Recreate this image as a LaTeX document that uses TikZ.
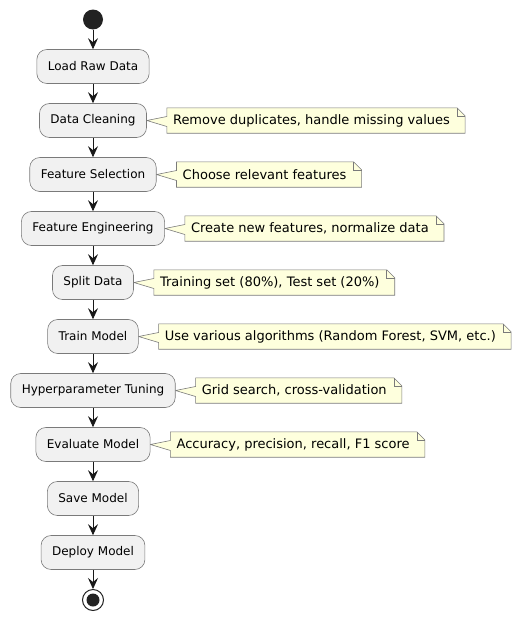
\documentclass[tikz,border=0pt]{standalone}
\usepackage{fontspec}
\setmainfont{DejaVu Sans}
\usepackage{tikz}
\usetikzlibrary{arrows.meta}
\usetikzlibrary{backgrounds}

\definecolor{actfill}{HTML}{F1F1F1}
\definecolor{notefill}{HTML}{FEFFDD}
\definecolor{linecol}{HTML}{181818}
\definecolor{edgecol}{HTML}{7A7A7A}
\definecolor{dotcol}{HTML}{222222}

\tikzset{
  act/.style={draw=edgecol, fill=actfill, line width=0.6pt, rounded corners=10pt,
    minimum height=34pt, inner xsep=11pt, font=\fontsize{12}{14}\selectfont},
  notetext/.style={anchor=west, minimum height=25pt, inner xsep=0pt,
    font=\fontsize{13}{15}\selectfont},
  flow/.style={draw=linecol, line width=0.9pt, -{Stealth[length=11pt,width=10pt,inset=4pt]}}
}

% yellow note with folded corner and pointer: #1 activity, #2 note text
\newcommand{\notefor}[2]{
  \begin{pgfonlayer}{background}
  \filldraw[fill=notefill, draw=edgecol, line width=0.6pt]
    ([xshift=-6pt]#2.north west) -- ([xshift=7pt]#2.north east)
    -- ([xshift=15pt,yshift=-8pt]#2.north east) -- ([xshift=15pt]#2.south east)
    -- ([xshift=-6pt]#2.south west) -- ([xshift=-6pt,yshift=-6pt]#2.west)
    -- (#1.east) -- ([xshift=-6pt,yshift=4pt]#2.west) -- cycle;
  \draw[edgecol, line width=0.6pt] ([xshift=7pt]#2.north east)
    -- ([xshift=7pt,yshift=-8pt]#2.north east) -- ([xshift=15pt,yshift=-8pt]#2.north east);
  \end{pgfonlayer}
}

\begin{document}
\begin{tikzpicture}[x=1pt, y=-1pt]
      \useasboundingbox (0,0) rectangle (522,621);
      \node[circle, fill=dotcol, minimum size=20pt, inner sep=0pt] (start) at (93,19.5) {};
      \node[act] (load) at (93,66.5) {Load Raw Data};
      \node[act] (clean) at (93,120.5) {Data Cleaning};
      \node[act] (select) at (93,174.5) {Feature Selection};
      \node[act] (engineer) at (93,228.5) {Feature Engineering};
      \node[act] (split) at (93,282.5) {Split Data};
      \node[act] (train) at (93,336.5) {Train Model};
      \node[act] (tune) at (93,390.5) {Hyperparameter Tuning};
      \node[act] (evaluate) at (93,444.5) {Evaluate Model};
      \node[act] (save) at (93,498.5) {Save Model};
      \node[act] (deploy) at (93,552.5) {Deploy Model};
      \node[circle, draw=dotcol, fill=white, line width=1pt, minimum size=21pt, inner sep=0pt] (stop) at (93,600) {};
      \node[circle, fill=dotcol, minimum size=13pt, inner sep=0pt] (stopdot) at (stop) {};

      \node[notetext] (nclean) at ([xshift=26pt]clean.east) {Remove duplicates, handle missing values};
      \node[notetext] (nselect) at ([xshift=26pt]select.east) {Choose relevant features};
      \node[notetext] (nengineer) at ([xshift=26pt]engineer.east) {Create new features, normalize data};
      \node[notetext] (nsplit) at ([xshift=26pt]split.east) {Training set (80\%), Test set (20\%)};
      \node[notetext] (ntrain) at ([xshift=26pt]train.east) {Use various algorithms (Random Forest, SVM, etc.)};
      \node[notetext] (ntune) at ([xshift=26pt]tune.east) {Grid search, cross-validation};
      \node[notetext] (nevaluate) at ([xshift=26pt]evaluate.east) {Accuracy, precision, recall, F1 score};
      \notefor{clean}{nclean}
      \notefor{select}{nselect}
      \notefor{engineer}{nengineer}
      \notefor{split}{nsplit}
      \notefor{train}{ntrain}
      \notefor{tune}{ntune}
      \notefor{evaluate}{nevaluate}

      \draw[flow] (start) -- (load);
      \draw[flow] (load) -- (clean);
      \draw[flow] (clean) -- (select);
      \draw[flow] (select) -- (engineer);
      \draw[flow] (engineer) -- (split);
      \draw[flow] (split) -- (train);
      \draw[flow] (train) -- (tune);
      \draw[flow] (tune) -- (evaluate);
      \draw[flow] (evaluate) -- (save);
      \draw[flow] (save) -- (deploy);
      \draw[flow] (deploy) -- (stop);
    \end{tikzpicture}
\end{document}
